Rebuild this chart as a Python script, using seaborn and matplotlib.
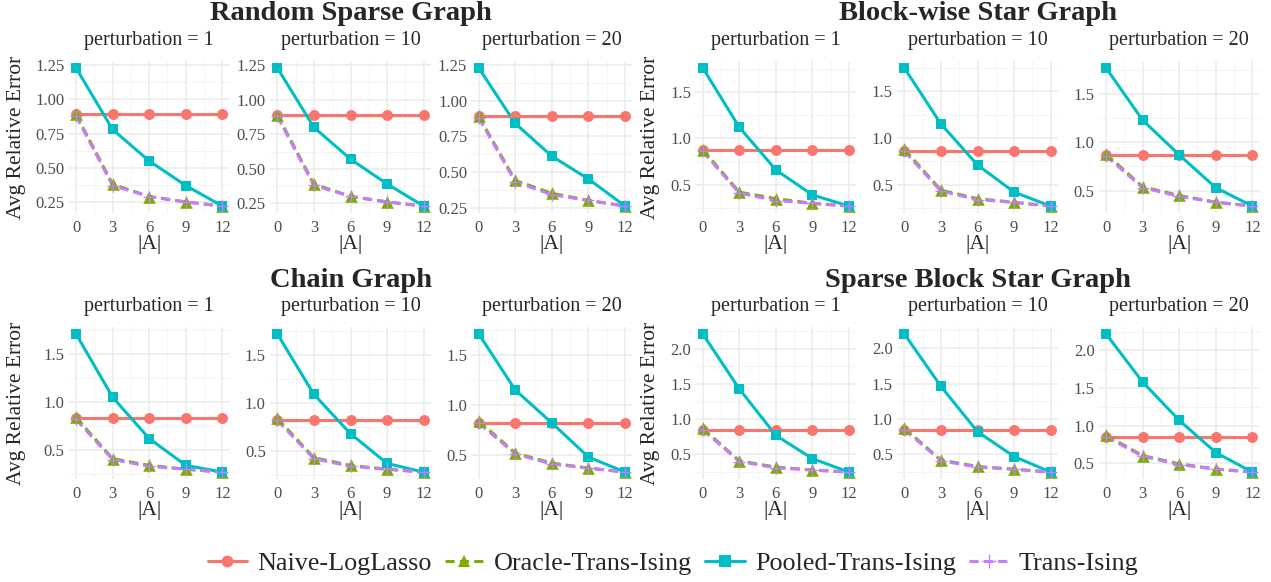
import numpy as np
import pandas as pd
import seaborn as sns
import matplotlib
matplotlib.use("Agg")
import matplotlib.pyplot as plt
from matplotlib.lines import Line2D
from matplotlib.ticker import MultipleLocator, FormatStrFormatter

# ---------------- data ----------------
A_SIZES = [0, 3, 6, 9, 12]
PERTURBATIONS = [1, 10, 20]
METHODS = ["Naive-LogLasso", "Oracle-Trans-Ising", "Pooled-Trans-Ising", "Trans-Ising"]
GRAPHS = ["Random Sparse Graph", "Block-wise Star Graph", "Chain Graph", "Sparse Block Star Graph"]

# Random Sparse Graph (rows: perturbation 1, 10, 20)
random_naive = [[0.89, 0.89, 0.89, 0.89, 0.89],
                [0.89, 0.89, 0.89, 0.89, 0.89],
                [0.89, 0.89, 0.89, 0.89, 0.89]]
random_oracle = [[0.89, 0.38, 0.29, 0.25, 0.22],
                 [0.89, 0.39, 0.30, 0.26, 0.23],
                 [0.89, 0.44, 0.35, 0.30, 0.26]]
random_pooled = [[1.23, 0.78, 0.55, 0.37, 0.22],
                 [1.23, 0.80, 0.57, 0.39, 0.23],
                 [1.23, 0.84, 0.61, 0.45, 0.26]]
random_trans = [[0.88, 0.37, 0.29, 0.25, 0.22],
                [0.88, 0.38, 0.30, 0.26, 0.23],
                [0.88, 0.43, 0.34, 0.30, 0.26]]

# Block-wise Star Graph
block_naive = [[0.87, 0.87, 0.87, 0.87, 0.87],
               [0.86, 0.86, 0.86, 0.86, 0.86],
               [0.87, 0.87, 0.87, 0.87, 0.87]]
block_oracle = [[0.88, 0.42, 0.35, 0.30, 0.27],
                [0.88, 0.44, 0.35, 0.31, 0.27],
                [0.88, 0.54, 0.45, 0.38, 0.34]]
block_pooled = [[1.76, 1.12, 0.66, 0.39, 0.27],
                [1.75, 1.15, 0.71, 0.42, 0.27],
                [1.77, 1.23, 0.87, 0.53, 0.34]]
block_trans = [[0.86, 0.41, 0.33, 0.30, 0.27],
               [0.86, 0.43, 0.34, 0.31, 0.27],
               [0.86, 0.53, 0.44, 0.38, 0.34]]

# Chain Graph
chain_naive = [[0.83, 0.83, 0.83, 0.83, 0.83],
               [0.82, 0.82, 0.82, 0.82, 0.82],
               [0.82, 0.82, 0.82, 0.82, 0.82]]
chain_oracle = [[0.84, 0.41, 0.34, 0.30, 0.27],
                [0.84, 0.43, 0.35, 0.31, 0.28],
                [0.84, 0.52, 0.42, 0.37, 0.33]]
chain_pooled = [[1.71, 1.05, 0.62, 0.34, 0.27],
                [1.72, 1.09, 0.68, 0.37, 0.28],
                [1.71, 1.15, 0.82, 0.48, 0.33]]
chain_trans = [[0.82, 0.40, 0.33, 0.30, 0.27],
               [0.82, 0.42, 0.34, 0.31, 0.28],
               [0.82, 0.51, 0.41, 0.37, 0.33]]

# Sparse Block Star Graph
sparse_naive = [[0.85, 0.85, 0.85, 0.85, 0.85],
                [0.85, 0.85, 0.85, 0.85, 0.85],
                [0.85, 0.85, 0.85, 0.85, 0.85]]
sparse_oracle = [[0.87, 0.41, 0.32, 0.28, 0.25],
                 [0.87, 0.42, 0.33, 0.29, 0.25],
                 [0.87, 0.60, 0.49, 0.42, 0.38]]
sparse_pooled = [[2.21, 1.43, 0.77, 0.44, 0.25],
                 [2.20, 1.46, 0.82, 0.47, 0.25],
                 [2.22, 1.58, 1.07, 0.64, 0.38]]
sparse_trans = [[0.85, 0.40, 0.31, 0.28, 0.25],
                [0.85, 0.41, 0.32, 0.29, 0.25],
                [0.85, 0.59, 0.48, 0.42, 0.38]]

GRAPH_DATA = {
    "Random Sparse Graph": [random_naive, random_oracle, random_pooled, random_trans],
    "Block-wise Star Graph": [block_naive, block_oracle, block_pooled, block_trans],
    "Chain Graph": [chain_naive, chain_oracle, chain_pooled, chain_trans],
    "Sparse Block Star Graph": [sparse_naive, sparse_oracle, sparse_pooled, sparse_trans],
}

# ---------------- style ----------------
sns.set_theme(style="white")
SERIF = ["Liberation Serif", "DejaVu Serif"]
plt.rcParams["font.family"] = SERIF

PALETTE = {"Naive-LogLasso": "#F8766D", "Oracle-Trans-Ising": "#7CAE00",
           "Pooled-Trans-Ising": "#00BFC4", "Trans-Ising": "#C77CFF"}
DASHES = {"Naive-LogLasso": "", "Oracle-Trans-Ising": (3, 1.7),
          "Pooled-Trans-Ising": "", "Trans-Ising": (3, 1.7)}
MARKERS = {"Naive-LogLasso": "o", "Oracle-Trans-Ising": "^",
           "Pooled-Trans-Ising": "s", "Trans-Ising": "+"}
SIZES = {"Naive-LogLasso": 62, "Oracle-Trans-Ising": 82, "Pooled-Trans-Ising": 60}
LW = 2.2

W, H = 1271, 582
fig = plt.figure(figsize=(W / 100, H / 100), dpi=100)


def fx(x):
    return x / W


def fy(y):
    return 1 - y / H


def add_ax(x0, y0, w, h):
    return fig.add_axes([x0 / W, 1 - (y0 + h) / H, w / W, h / H])


PANEL_W = 161
PANEL_H = 152
ROW_TOP = {0: 61, 1: 327}
GROUP_LEFTS = {0: [68.7, 270.0, 471.4], 1: [695.4, 897.0, 1098.7]}
YLAB_X = {0: 17, 1: 651}
TICK_STEP = {"Random Sparse Graph": (0.25, "%.2f"), "Block-wise Star Graph": (0.5, "%.1f"),
             "Chain Graph": (0.5, "%.1f"), "Sparse Block Star Graph": (0.5, "%.1f")}

for gi, gname in enumerate(GRAPHS):
    row, col = divmod(gi, 2)
    top = ROW_TOP[row]
    lefts = GROUP_LEFTS[col]
    series = GRAPH_DATA[gname]
    for pi, pert in enumerate(PERTURBATIONS):
        rows = []
        for mi, m in enumerate(METHODS):
            for a, v in zip(A_SIZES, series[mi][pi]):
                rows.append({"A": a, "err": v, "method": m})
        df = pd.DataFrame(rows)
        ax = add_ax(lefts[pi], top, PANEL_W, PANEL_H)
        sns.lineplot(data=df, x="A", y="err", hue="method", style="method",
                     palette=PALETTE, dashes=DASHES, hue_order=METHODS, style_order=METHODS,
                     linewidth=LW, legend=False, ax=ax, zorder=3)
        for m in METHODS:
            sub = df[df["method"] == m]
            if m == "Trans-Ising":
                ax.scatter(sub["A"], sub["err"], marker="+", s=75, color=PALETTE[m],
                           linewidths=1.0, zorder=5)
            else:
                sns.scatterplot(data=sub, x="A", y="err", marker=MARKERS[m], color=PALETTE[m],
                                s=SIZES[m], linewidth=0, legend=False, ax=ax, zorder=4)
        ax.set_xlim(-0.6, 12.6)
        ax.margins(y=0.05)
        ax.set_xticks(A_SIZES)
        ax.xaxis.set_minor_locator(MultipleLocator(1.5))
        step, fmt = TICK_STEP[gname]
        ax.yaxis.set_major_locator(MultipleLocator(step))
        ax.yaxis.set_minor_locator(MultipleLocator(step / 2))
        ax.yaxis.set_major_formatter(FormatStrFormatter(fmt))
        ax.grid(which="major", color="#EBEBEB", linewidth=1.1, zorder=0)
        ax.grid(which="minor", color="#F2F2F2", linewidth=0.6, zorder=0)
        ax.set_axisbelow(True)
        for s in ax.spines.values():
            s.set_visible(False)
        ax.tick_params(axis="both", which="both", length=0, labelsize=12,
                       labelcolor="#4D4D4D")
        ax.tick_params(axis="x", pad=5)
        ax.tick_params(axis="y", pad=3)
        for lab in ax.get_xticklabels() + ax.get_yticklabels():
            lab.set_family(SERIF)
        ax.set_xlabel("")
        ax.set_ylabel("")
        ax.set_facecolor("none")
        cxp = lefts[pi] + PANEL_W / 2
        fig.text(fx(cxp), fy(top - 20), f"perturbation = {pert}", ha="center", va="center",
                 fontsize=14.5, family=SERIF)
        fig.text(fx(cxp), fy(top + PANEL_H + 31), "|A|", ha="center", va="center",
                 fontsize=15.5, family=SERIF)
    cx = (lefts[0] + lefts[2] + PANEL_W) / 2
    fig.text(fx(cx), fy(top - 47), gname, ha="center", va="center",
             fontsize=20.5, fontweight="bold", family=SERIF)
    fig.text(fx(YLAB_X[col]), fy(top + PANEL_H / 2), "Avg Relative Error",
             rotation=90, ha="center", va="center", fontsize=15.5, family=SERIF)

handles = []
for m in METHODS:
    ls = "-" if DASHES[m] == "" else (0, DASHES[m])
    mk = MARKERS[m]
    handles.append(Line2D([0], [0], color=PALETTE[m], linestyle=ls, linewidth=LW,
                          marker=mk, markersize=8.5 if mk != "+" else 9.5,
                          markeredgewidth=0 if mk != "+" else 1.0))
fig.legend(handles, METHODS, loc="center", bbox_to_anchor=(0.5295, fy(563)),
           ncol=4, frameon=False, handlelength=1.5, handletextpad=0.4,
           columnspacing=0.5, prop={"family": SERIF, "size": 18.8})

fig.savefig("out.png", dpi=100, facecolor="white")
